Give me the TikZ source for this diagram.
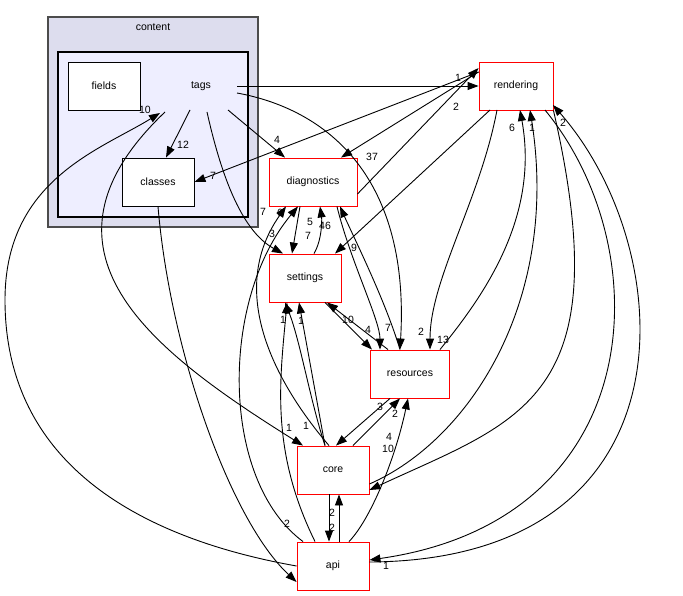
\documentclass[tikz,border=0pt]{standalone}
\usepackage{fontspec}
\setmainfont{Liberation Sans}
\usetikzlibrary{arrows.meta}
\begin{document}
\begin{tikzpicture}[x=1pt,y=-1pt,font=\fontsize{10.5}{12}\selectfont,line width=0.9pt,
  box/.style={draw=red,fill=white,minimum width=72pt,minimum height=48pt,inner sep=0pt},
  wbox/.style={draw=black,fill=white,minimum width=72pt,minimum height=48pt,inner sep=0pt},
  e/.style={draw=black,-{Triangle[length=11pt,width=8pt]}},
  lb/.style={inner sep=0pt}]
\useasboundingbox (0,0) rectangle (683,596);
\draw[draw=gray!60!black,line width=1.2pt,fill={rgb,255:red,221;green,221;blue,238}] (48,17) rectangle (258,227);
\node at (153,27) {content};
\draw[line width=1.2pt,fill={rgb,255:red,238;green,238;blue,255}] (58,52) rectangle (248,217);
\node[minimum width=70pt,minimum height=48pt] (tags) at (201,86) {tags};
\node[wbox] (fields) at (104,86) {fields};
\node[wbox] (classes) at (158,182) {classes};
\node[box,minimum width=74pt] (rendering) at (516,86) {rendering};
\node[box,minimum width=88pt] (diagnostics) at (313,182) {diagnostics};
\node[box] (settings) at (305,278) {settings};
\node[box,minimum width=79pt] (resources) at (410,374) {resources};
\node[box] (core) at (333,470) {core};
\node[box] (api) at (333,566) {api};
% tags edges
\draw[e] (237,86) -- (rendering.west);
\draw[e] (190,110) -- ([xshift=8pt]classes.north);
\draw[e] (228,110) -- ([xshift=-28pt]diagnostics.north);
\draw[e] (207,112) .. controls (220,170) and (240,230) .. ([xshift=-22pt]settings.north);
\draw[e] (237,93) .. controls (330,110) and (410,180) .. ([xshift=-10pt]resources.north);
\draw[e] (165,112) .. controls (20,250) and (150,350) .. ([xshift=-30pt]core.north);
\draw[e] (api.west) .. controls (150,540) and (5,470) .. (5,300) .. controls (5,180) and (100,150) .. (160,113);
% rendering
\draw[e] ([yshift=14pt]rendering.west) -- (classes.east);
\draw[e] ([yshift=-12pt]diagnostics.east) -- ([yshift=18pt]rendering.west);
\draw[e] ([yshift=14pt]rendering.west) -- ([xshift=28pt]diagnostics.north);
\draw[e] (490,110) -- ([xshift=30pt]settings.north);
\draw[e] (497,110) .. controls (480,200) and (430,280) .. ([xshift=20pt]resources.north);
\draw[e] ([xshift=30pt]resources.north) .. controls (480,300) and (540,220) .. (520,110);
\draw[e] ([yshift=-14pt]core.east) .. controls (470,440) and (560,300) .. (530,110);
\draw[e] ([yshift=4pt]api.east) .. controls (700,560) and (680,250) .. (553,105);
\draw[e] (545,110) .. controls (660,250) and (650,520) .. ([yshift=6pt]api.east);
\draw[e] (rendering.south east) .. controls (620,400) and (520,420) .. ([yshift=-20pt]core.east);
% diagnostics / settings
\draw[e] ([xshift=-13pt]diagnostics.south) -- ([xshift=-13pt]settings.north);
\draw[e] ([xshift=9pt]settings.north) .. controls (322,240) and (322,220) .. ([xshift=7pt]diagnostics.south);
\draw[e] ([xshift=-10pt]resources.north) .. controls (385,300) and (355,240) .. ([xshift=27pt]diagnostics.south);
\draw[e] ([xshift=24pt]diagnostics.south) .. controls (350,260) and (380,320) .. ([xshift=-30pt]resources.north);
\draw[e] ([xshift=20pt]settings.south) -- ([xshift=-38pt]resources.north);
\draw[e] ([xshift=-22pt]resources.north) -- ([xshift=22pt]settings.south);
% core / api
\draw[e] ([xshift=-4pt]core.north) .. controls (290,400) and (220,300) .. ([xshift=-27pt]diagnostics.south);
\draw[e] ([xshift=-30pt]api.north) .. controls (220,480) and (220,300) .. ([xshift=-15pt]diagnostics.south);
\draw[e] ([xshift=-8pt]core.north) .. controls (310,400) and (300,340) .. ([xshift=-20pt]settings.south);
\draw[e] ([xshift=-8pt]core.north) -- ([xshift=-6pt]settings.south);
\draw[e] ([xshift=-18pt]api.north) .. controls (270,450) and (280,380) .. ([xshift=-18pt]settings.south);
\draw[e] ([xshift=-20pt]resources.south) -- ([xshift=3pt]core.north);
\draw[e] ([xshift=20pt]core.north) -- ([xshift=-10pt]resources.south);
\draw[e] ([xshift=16pt]api.north) .. controls (370,520) and (395,460) .. ([xshift=-2pt]resources.south);
\draw[e] ([xshift=-4pt]core.south) -- ([xshift=-4pt]api.north);
\draw[e] ([xshift=6pt]api.north) -- ([xshift=6pt]core.south);
\draw[e] (classes.south) .. controls (170,350) and (230,520) .. ([yshift=-16pt]api.west);
% labels
\node[lb] at (458,78) {1};
\node[lb] at (213,176) {7};
\node[lb] at (183,145) {12};
\node[lb] at (277,140) {4};
\node[lb] at (145,110) {10};
\node[lb] at (456,107) {2};
\node[lb] at (372,157) {37};
\node[lb] at (354,248) {9};
\node[lb] at (443,340) {13};
\node[lb] at (421,332) {2};
\node[lb] at (512,128) {6};
\node[lb] at (532,128) {1};
\node[lb] at (563,123) {2};
\node[lb] at (386,566) {1};
\node[lb] at (388,449) {10};
\node[lb] at (263,212) {7};
\node[lb] at (280,213) {6};
\node[lb] at (272,234) {3};
\node[lb] at (310,222) {5};
\node[lb] at (308,236) {7};
\node[lb] at (325,226) {46};
\node[lb] at (348,320) {10};
\node[lb] at (368,330) {4};
\node[lb] at (388,328) {7};
\node[lb] at (283,320) {1};
\node[lb] at (301,321) {1};
\node[lb] at (289,428) {1};
\node[lb] at (306,426) {1};
\node[lb] at (380,407) {3};
\node[lb] at (395,414) {2};
\node[lb] at (389,437) {4};
\node[lb] at (332,528) {2};
\node[lb] at (332,513) {2};
\node[lb] at (287,524) {2};
\end{tikzpicture}
\end{document}
